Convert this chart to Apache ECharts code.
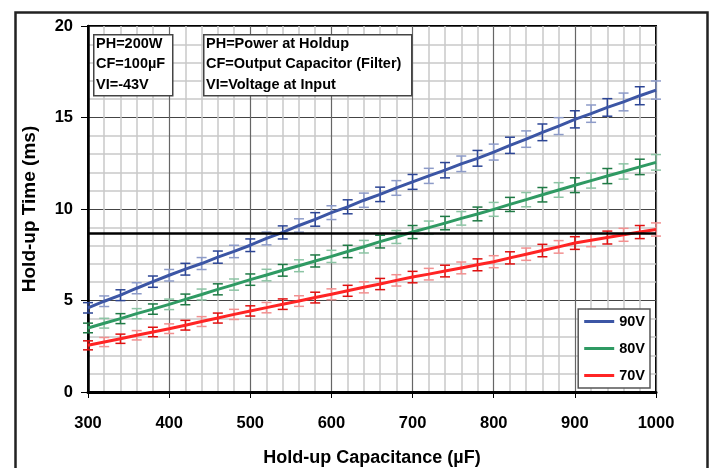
<!DOCTYPE html>
<html>
<head>
<meta charset="utf-8">
<script src="https://cdn.jsdelivr.net/npm/echarts@6/dist/echarts.min.js"></script>
<style>
html,body{margin:0;padding:0;background:#fff;}
#chart{width:711px;height:468px;}
</style>
</head>
<body>
<div id="chart"></div>
<script>
// Hold-up capacitance (µF)
var capacitance = [300,320,340,360,380,400,420,440,460,480,500,520,540,560,580,600,620,640,660,680,700,720,740,760,780,800,820,840,860,880,900,920,940,960,980,1000];
// Hold-up time (ms)
var v90 = [4.60,4.96,5.29,5.67,6.03,6.38,6.71,7.02,7.37,7.68,8.02,8.39,8.72,9.10,9.43,9.80,10.12,10.48,10.80,11.15,11.48,11.81,12.12,12.47,12.77,13.11,13.48,13.82,14.19,14.53,14.90,15.21,15.55,15.85,16.19,16.50];
var v80 = [3.50,3.76,4.01,4.28,4.53,4.79,5.06,5.33,5.61,5.87,6.14,6.39,6.65,6.90,7.16,7.41,7.68,7.94,8.22,8.47,8.74,8.98,9.23,9.49,9.73,9.98,10.25,10.51,10.78,11.04,11.30,11.55,11.80,12.05,12.30,12.55];
var v70 = [2.55,2.73,2.91,3.10,3.28,3.46,3.65,3.85,4.04,4.24,4.43,4.61,4.80,4.97,5.16,5.34,5.53,5.72,5.90,6.10,6.28,6.44,6.61,6.78,6.95,7.12,7.33,7.53,7.73,7.93,8.14,8.29,8.44,8.59,8.74,8.88];
var seriesNames = ['90V','80V','70V'];
var xTicks = [300,400,500,600,700,800,900,1000];
var yTicks = [0,5,10,15,20];
var requiredTime = 8.7;
// measurement tolerance (ms): base + relative part
var errBase = 0.2;
var errRel = 0.018;
var infoLeft = ['PH=200W','CF=100µF','VI=-43V'];
var infoRight = ['PH=Power at Holdup','CF=Output Capacitor (Filter)','VI=Voltage at Input'];

var FONT = "'Liberation Sans', Arial, Helvetica, sans-serif";
var colors = {
  '90V': {line:'#3c56a5', dark:'#2c4595', light:'#8d9bc8'},
  '80V': {line:'#2f9a63', dark:'#1f7a45', light:'#8cc4a4'},
  '70V': {line:'#ff2424', dark:'#e01010', light:'#f29090'}
};
var values = {'90V': v90, '80V': v80, '70V': v70};

function lineData(vals){ return capacitance.map(function(c,i){ return [c, vals[i]]; }); }
function errData(vals){
  return capacitance.map(function(c,i){
    var e = errBase + errRel*vals[i];
    return [c, vals[i]-e, vals[i]+e, i];
  });
}
function errSeries(name){
  var col = colors[name];
  return {
    type:'custom', name: name + ' err', z: 1, silent:true,
    encode:{x:0, y:[1,2]},
    data: errData(values[name]),
    renderItem: function(params, api){
      var x = api.value(0);
      var p1 = api.coord([x, api.value(1)]);
      var p2 = api.coord([x, api.value(2)]);
      var hw = 5;
      var c = (api.value(3) % 2) ? col.light : col.dark;
      var st = {stroke:c, lineWidth:1.5};
      return {type:'group', children:[
        {type:'line', shape:{x1:p1[0],y1:p1[1],x2:p2[0],y2:p2[1]}, style:st},
        {type:'line', shape:{x1:p1[0]-hw,y1:p1[1],x2:p1[0]+hw,y2:p1[1]}, style:st},
        {type:'line', shape:{x1:p2[0]-hw,y1:p2[1],x2:p2[0]+hw,y2:p2[1]}, style:st}
      ]};
    }
  };
}
function lineSeries(name, withMark){
  var s = {
    type:'line', name:name, z:3, symbol:'none', smooth:false,
    data: lineData(values[name]),
    lineStyle:{color:colors[name].line, width:3},
    itemStyle:{color:colors[name].line}
  };
  if (withMark){
    s.markLine = {
      silent:true, symbol:['none','none'], label:{show:false},
      lineStyle:{color:'#000', width:2.5, type:'solid'},
      data:[{yAxis: requiredTime}]
    };
  }
  return s;
}

function infoBox(x, y, w, h, lines){
  var els = [{type:'rect', left:x, top:y, z:100, zlevel:1, silent:true,
    shape:{x:0,y:0,width:w,height:h}, style:{fill:'#fff', stroke:'#444', lineWidth:1.5}}];
  lines.forEach(function(t,i){
    els.push({type:'text', left:x+3, top:y+2+i*20.5, z:101, zlevel:1, silent:true,
      style:{text:t, font:'bold 14.5px ' + FONT, fill:'#000'}});
  });
  return els;
}

var chart = echarts.init(document.getElementById('chart'), null, {renderer:'canvas'});
var option = {
  backgroundColor:'#fff',
  animation:false,
  textStyle:{fontFamily:FONT},
  grid:{left:88, right:55, top:26, bottom:76, containLabel:false, outerBoundsMode:'none',
    show:true, borderColor:'#000', borderWidth:2, backgroundColor:'transparent'},
  legend:{
    data: seriesNames,
    orient:'vertical', right:61, top:309, zlevel:1,
    backgroundColor:'#fff', borderColor:'#555', borderWidth:1.5,
    padding:[5,5,5,6], itemGap:12, itemWidth:30, itemHeight:3, itemTextGap:3,
    icon:'rect',
    textStyle:{fontFamily:FONT, fontWeight:'bold', fontSize:14.5, color:'#000'}
  },
  xAxis:{
    type:'value', min:300, max:1000, interval:100,
    name:'Hold-up Capacitance (µF)', nameLocation:'middle', nameGap:57,
    nameTextStyle:{fontFamily:FONT, fontWeight:'bold', fontSize:18, color:'#000'},
    axisLine:{show:true, lineStyle:{color:'#000', width:3}},
    axisTick:{show:true, length:6, lineStyle:{color:'#000', width:1}},
    axisLabel:{margin:23, fontFamily:FONT, fontWeight:'bold', fontSize:16.5, color:'#000',
      formatter:function(v){ return xTicks.indexOf(v) >= 0 ? String(v) : ''; }},
    splitLine:{show:true, lineStyle:{color:'#666', width:1.2}},
    minorTick:{show:false, splitNumber:5},
    minorSplitLine:{show:true, lineStyle:{color:'#c9c9c9', width:1.5}}
  },
  yAxis:{
    type:'value', min:0, max:20, interval:5,
    name:'Hold-up Time (ms)', nameLocation:'middle', nameGap:49, nameRotate:90,
    nameTextStyle:{fontFamily:FONT, fontWeight:'bold', fontSize:19, color:'#000'},
    axisLine:{show:true, lineStyle:{color:'#000', width:2.5}},
    axisTick:{show:true, length:7, lineStyle:{color:'#000', width:1}},
    axisLabel:{margin:15, fontFamily:FONT, fontWeight:'bold', fontSize:16.5, color:'#000',
      formatter:function(v){ return yTicks.indexOf(v) >= 0 ? String(v) : ''; }},
    splitLine:{show:true, lineStyle:{color:'#444', width:1.2}},
    minorTick:{show:false, splitNumber:5},
    minorSplitLine:{show:true, lineStyle:{color:'#c9c9c9', width:1.5}}
  },
  graphic:[
    {type:'rect', left:13, top:10, z:-10, silent:true, shape:{x:0,y:0,width:692,height:470}, style:{fill:'none', stroke:'#222', lineWidth:2.5}}
  ].concat(infoBox(93, 34, 79, 61, infoLeft), infoBox(203, 34, 208, 61, infoRight)),
  series:[
    errSeries('90V'), errSeries('80V'), errSeries('70V'),
    lineSeries('90V', true), lineSeries('80V', false), lineSeries('70V', false)
  ]
};
chart.setOption(option);
</script>
</body>
</html>
